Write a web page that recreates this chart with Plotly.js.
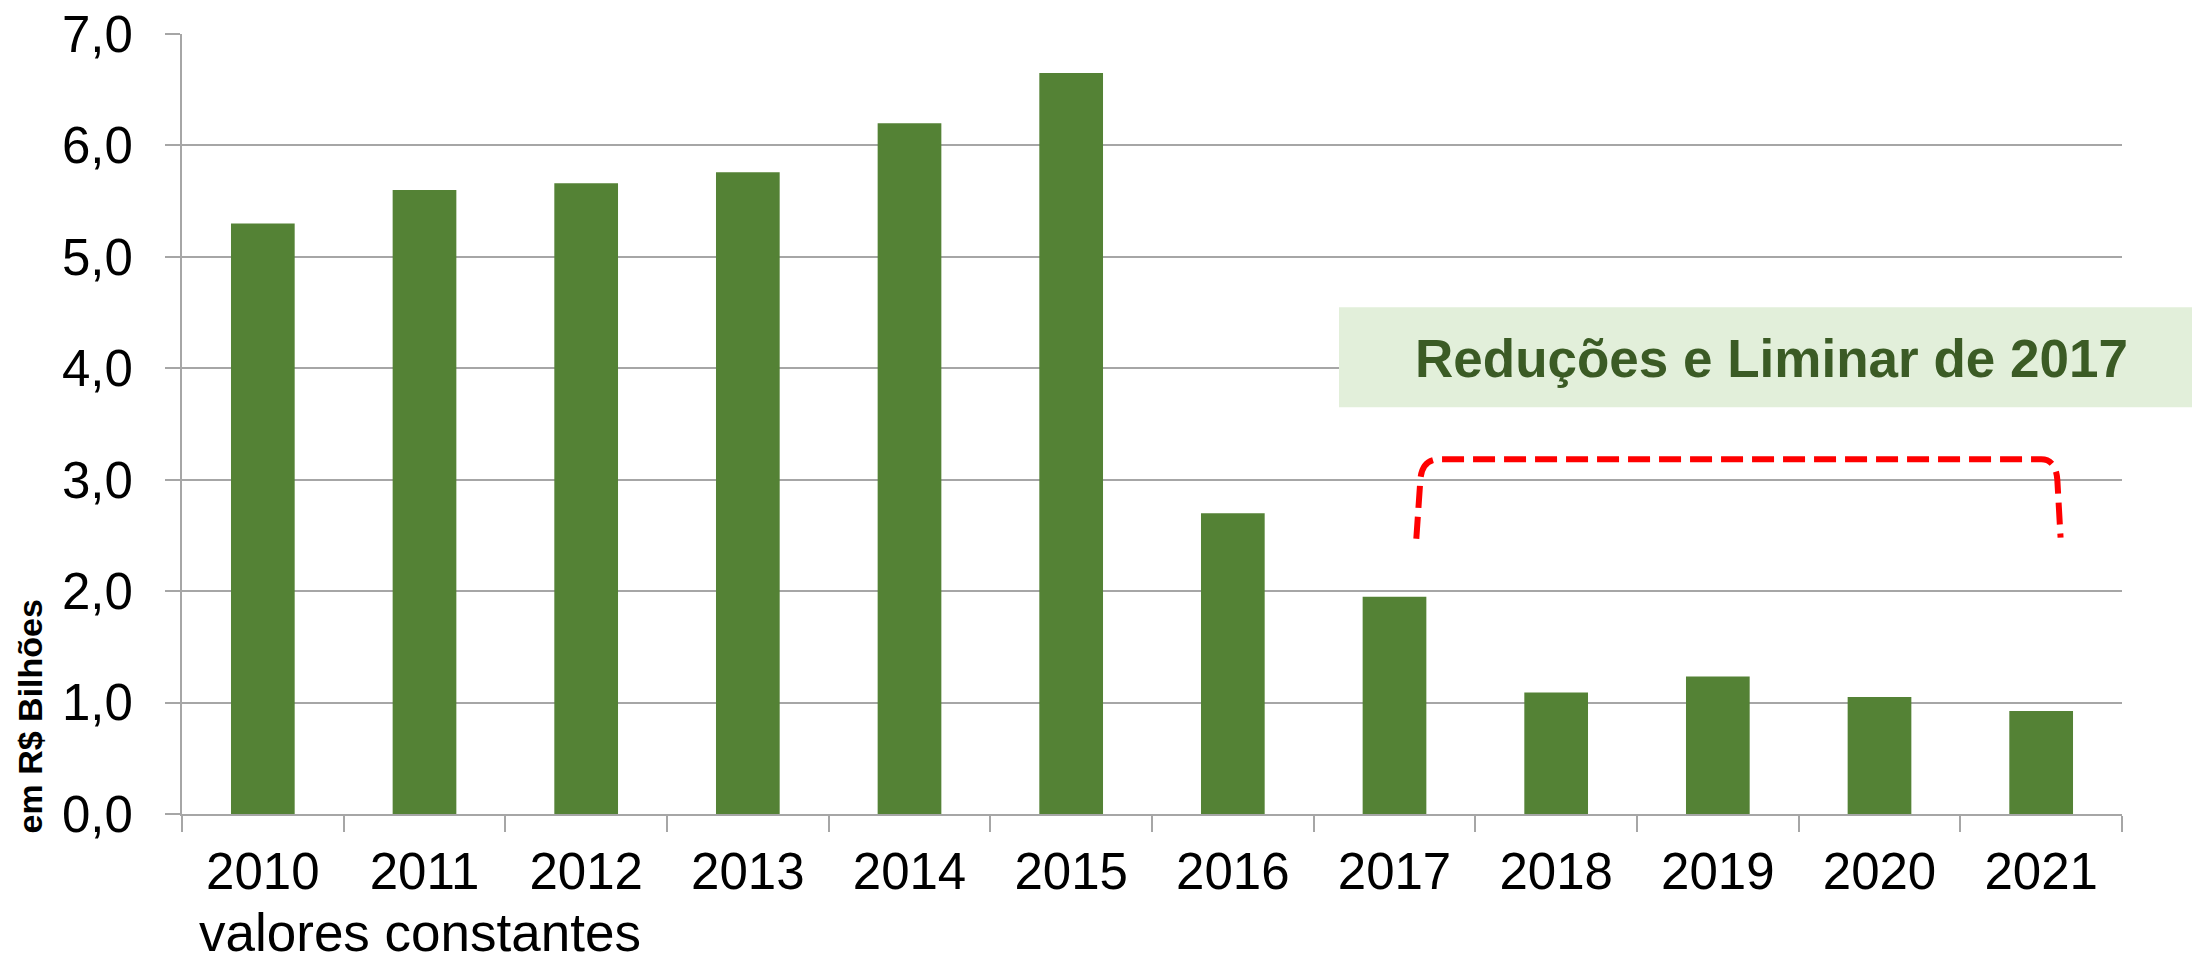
<!DOCTYPE html>
<html><head><meta charset="utf-8">
<script src="https://cdn.plot.ly/plotly-3.0.1.min.js"></script>
<style>html,body{margin:0;padding:0;background:#fff}#chart{width:2192px;height:964px}</style>
</head><body><div id="chart"></div>
<script>
const years = ['2010','2011','2012','2013','2014','2015','2016','2017','2018','2019','2020','2021'];
const values = [5.30, 5.60, 5.66, 5.76, 6.20, 6.65, 2.70, 1.95, 1.09, 1.235, 1.05, 0.925];
const yTickValues = [0, 1, 2, 3, 4, 5, 6, 7];
const yAxisTitle = 'em R$ Bilhões';
const footnote = 'valores constantes';
const highlightText = 'Reduções e Liminar de 2017';

const FONT = 'Liberation Sans, Arial, sans-serif';
const GRID = '#A6A6A6';

const trace = {
  type: 'bar', x: years, y: values,
  marker: {color: '#548235', line: {width: 0}},
  hoverinfo: 'skip'
};

const layout = {
  width: 2192, height: 964,
  paper_bgcolor: '#fff', plot_bgcolor: '#fff',
  margin: {l: 182, r: 70, t: 34, b: 150, pad: 0},
  separators: ',.',
  bargap: 0.606,
  showlegend: false,
  font: {family: FONT, color: '#000'},
  xaxis: {
    type: 'category', tickson: 'boundaries', ticks: 'outside', ticklen: 16, tickwidth: 2, tickcolor: GRID,
    showline: true, linecolor: GRID, linewidth: 2, showgrid: false, zeroline: false,
    tickfont: {family: FONT, size: 51, color: '#000'}, ticklabelstandoff: 12
  },
  yaxis: {
    range: [0, 7], tickvals: yTickValues, tickformat: '.1f',
    showgrid: true, gridcolor: GRID, gridwidth: 2,
    ticks: 'outside', ticklen: 15, tickwidth: 2, tickcolor: GRID,
    showline: true, linecolor: GRID, linewidth: 2, zeroline: false,
    tickfont: {family: FONT, size: 51, color: '#000'}, ticklabelstandoff: 22
  },
  shapes: [
    {type: 'rect', xref: 'paper', yref: 'paper', x0: 0.5964, x1: 1.04, y0: 0.5216, y1: 0.6498,
     fillcolor: '#E2EFDA', line: {width: 0}, layer: 'above'},
    {type: 'path', xref: 'x', yref: 'y', layer: 'above',
     path: 'M 7.135,2.47 L 7.16,3.0 Q 7.17,3.183 7.28,3.183 L 11.0,3.183 Q 11.09,3.183 11.1,3.0 L 11.12,2.48',
     line: {color: '#FF0000', width: 6, dash: '22px,9px'}}
  ],
  annotations: [
    {text: yAxisTitle, textangle: -90, xref: 'paper', yref: 'paper', x: -0.0784, y: 0.125,
     xanchor: 'center', yanchor: 'middle', showarrow: false,
     font: {family: FONT, size: 34, color: '#000', weight: 'bold'}},
    {text: '<b>' + highlightText + '</b>', xref: 'paper', yref: 'paper', x: 0.8193, y: 0.584,
     xanchor: 'center', yanchor: 'middle', showarrow: false,
     font: {family: FONT, size: 53, color: '#3B5B25'}},
    {text: footnote, xref: 'paper', yref: 'paper', x: 0.0077, y: -0.112,
     xanchor: 'left', yanchor: 'top', showarrow: false,
     font: {family: FONT, size: 53, color: '#000'}}
  ]
};

Plotly.newPlot('chart', [trace], layout, {staticPlot: true, displayModeBar: false});
</script>
</body></html>
